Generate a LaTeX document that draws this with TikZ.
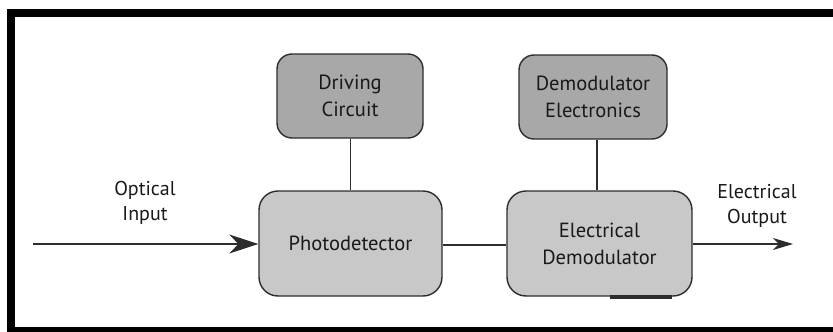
\documentclass[tikz,border=0pt]{standalone}
\usepackage{fontspec}
\setmainfont{PT Sans}
\usetikzlibrary{arrows.meta}
\definecolor{boxline}{RGB}{45,45,45}
\definecolor{topfill}{RGB}{168,168,168}
\definecolor{lowfill}{RGB}{200,200,200}
\definecolor{txt}{RGB}{25,25,25}
\tikzset{
  blk/.style={draw=boxline, line width=1.4pt, rounded corners=15pt, align=center,
    text=txt, font=\fontsize{20.5}{27}\selectfont, inner sep=0pt},
  upper/.style={blk, fill=topfill},
  lower/.style={blk, fill=lowfill, rounded corners=19pt},
  wire/.style={draw=boxline, line width=1.3pt},
  lbl/.style={align=center, text=txt, font=\fontsize{20}{25}\selectfont, inner sep=0pt}
}
\begin{document}
\begin{tikzpicture}[x=1pt,y=-1pt]
\useasboundingbox (0,0) rectangle (833,332);
% frame
\fill[black] (7,9) rectangle (833,17);
\fill[black] (7,9) rectangle (15,332);
\fill[black] (7,327) rectangle (833,332);
% boxes
\node[upper, minimum width=146pt, minimum height=84pt] (drv) at (350,96) {Driving\\Circuit};
\node[lower, minimum width=183pt, minimum height=105pt] (pd) at (350.5,243.5) {Photodetector};
\node[upper, minimum width=148pt, minimum height=84pt] (dme) at (593,97) {Demodulator\\Electronics};
\node[lower, minimum width=185pt, minimum height=105pt] (edm) at (599.5,243.5) {Electrical\\Demodulator};
% labels
\node[lbl] (inlbl) at (145,203) {Optical\\Input};
\node[lbl] (outlbl) at (757,206) {Electrical\\Output};
\coordinate (inStart) at (33,244);
\coordinate (outEnd) at (793,244);
% connectors
\draw[wire] (drv.south -| pd.north) -- (pd.north);
\draw[wire] (dme.south -| 597,0) -- (edm.north -| 597,0);
\draw[wire] (pd.east |- 0,245) -- (edm.west |- 0,245);
\draw[wire, -{Stealth[length=29pt,width=19pt,inset=9pt]}] (inStart) -- (pd.west |- inStart);
\draw[wire, -{Stealth[length=20pt,width=12pt,inset=6pt]}] (edm.east |- outEnd) -- (outEnd);
% stray dark bar under the demodulator
\fill[boxline] (610,295) rectangle (672,298.5);
\end{tikzpicture}
\end{document}
